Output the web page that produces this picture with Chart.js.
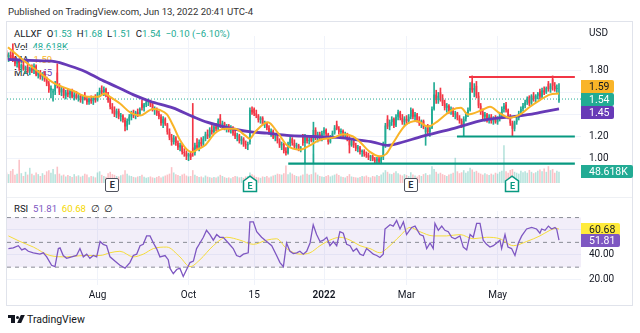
<!DOCTYPE html>
<html>
<head>
<meta charset="utf-8">
<script src="https://cdn.jsdelivr.net/npm/chart.js@4.4.1/dist/chart.umd.min.js"></script>
<style>
  html, body { margin:0; padding:0; background:#fff; }
  body { width:640px; height:333px; position:relative; overflow:hidden; font-family: Roboto, "Noto Sans", Arial, sans-serif; color:#131722; }
  .abs { position:absolute; white-space:nowrap; }
  #frame { left:6px; top:21px; width:625px; height:283px; border:1px solid #e0e3eb; }
  #sep { left:7px; top:197px; width:625px; height:1px; background:#eef0f4; }
  canvas { position:absolute; z-index:2; }
  .leg { font-size:9.6px; line-height:12px; color:#131722; z-index:1; }
  .g { color:#22ab94; }
  .tag { font-size:10.5px; line-height:13px; height:13px; padding:0 5px 0 8px; z-index:3; border-radius:0 2px 2px 0; }
  .ax { font-size:10px; color:#131722; z-index:3; }
  .em { position:absolute; z-index:3; width:14px; height:14px; font-size:9px; font-weight:bold; line-height:14px; text-align:center; }
</style>
</head>
<body>
<div class="abs" style="left:8px;top:6px;font-size:9.6px;color:#333;">Published on TradingView.com, Jun 13, 2022 20:41 UTC-4</div>
<div id="frame" class="abs"></div>
<div id="sep" class="abs"></div>

<div class="abs leg" style="left:14px;top:28px;">ALLXF&nbsp;&nbsp;O<span class="g">1.53</span>&nbsp;&nbsp;H<span class="g">1.68</span>&nbsp;&nbsp;L<span class="g">1.51</span>&nbsp;&nbsp;C<span class="g">1.54</span>&nbsp;&nbsp;<span class="g">−0.10 (−6.10%)</span></div>
<div class="abs leg" style="left:14px;top:40.5px;">Vol&nbsp;&nbsp;<span class="g">48.618K</span></div>
<div class="abs leg" style="left:14px;top:54px;">MA&nbsp;&nbsp;<span style="color:#f9b428">1.59</span></div>
<div class="abs leg" style="left:14px;top:67px;">MA&nbsp;&nbsp;<span style="color:#673ab7">1.45</span></div>
<div class="abs leg" style="left:14px;top:202.5px;">RSI&nbsp;&nbsp;<span style="color:#7e57c2">51.81</span>&nbsp;&nbsp;<span style="color:#f5d800">60.68</span>&nbsp;&nbsp;∅&nbsp;&nbsp;∅</div>

<div class="abs ax" style="left:589px;top:27px;">USD</div>

<canvas id="c1" width="625" height="175" style="left:7px;top:22px;width:625px;height:175px;"></canvas>
<canvas id="c2" width="625" height="108" style="left:7px;top:197px;width:625px;height:108px;"></canvas>

<div id="tagFast" class="abs tag" style="left:581px;background:#f9b428;color:#131722;">1.59</div>
<div id="tagLast" class="abs tag" style="left:581px;background:#22ab94;color:#fff;">1.54</div>
<div id="tagSlow" class="abs tag" style="left:581px;background:#673ab7;color:#fff;">1.45</div>
<div id="tagVol" class="abs tag" style="left:581px;background:#22ab94;color:#fff;">48.618K</div>
<div id="tagRsiMa" class="abs tag" style="left:581px;background:#ffeb3b;color:#131722;">60.68</div>
<div id="tagRsi" class="abs tag" style="left:581px;background:#7e57c2;color:#fff;">51.81</div>

<div id="marks"></div>

<div class="abs" style="left:8px;top:315px;width:7px;height:3px;background:#131722"></div>
<div class="abs" style="left:11px;top:315px;width:3.5px;height:8px;background:#131722"></div>
<div class="abs" style="left:15.5px;top:315.5px;width:3px;height:3px;border-radius:50%;background:#131722"></div>
<div class="abs" style="left:19px;top:315px;width:3.5px;height:8px;background:#131722;transform:skewX(-25deg)"></div>
<div class="abs" style="left:27px;top:312.5px;font-size:10.5px;color:#131722;">TradingView</div>

<script>
// ---------- DATA ----------
const opens = [1.95,1.92,1.94,1.96,1.89,1.86,1.88,1.82,1.85,1.81,
1.83,1.79,1.82,1.80,1.84,1.76,1.78,1.74,1.77,1.72,
1.68,1.62,1.60,1.61,1.78,1.66,1.60,1.63,1.57,1.60,
1.58,1.61,1.56,1.58,1.55,1.57,1.53,1.56,1.54,1.51,
1.54,1.52,1.55,1.53,1.59,1.62,1.60,1.63,1.58,1.53,
1.47,1.44,1.40,1.43,1.38,1.39,1.35,1.29,1.34,1.38,
1.41,1.39,1.42,1.40,1.50,1.46,1.49,1.51,1.52,1.49,
1.44,1.45,1.41,1.38,1.32,1.36,1.31,1.24,1.19,1.15,
1.19,1.14,1.10,1.12,1.06,1.05,1.02,1.04,1.10,1.05,
1.12,1.10,1.15,1.13,1.18,1.22,1.20,1.26,1.24,1.29,
1.27,1.37,1.30,1.32,1.28,1.30,1.26,1.28,1.23,1.20,
1.21,1.16,1.18,1.13,1.12,1.15,1.44,1.45,1.41,1.39,
1.35,1.37,1.31,1.32,1.28,1.24,1.25,1.19,1.21,1.16,
1.12,1.13,1.07,1.05,1.13,1.18,1.14,1.11,1.12,1.09,
1.21,1.14,1.19,1.16,1.20,1.16,1.26,1.19,1.22,1.18,
1.23,1.26,1.22,1.15,1.20,1.23,1.31,1.27,1.24,1.25,
1.21,1.22,1.18,1.12,1.16,1.12,1.09,1.10,1.06,1.07,
1.04,1.03,1.01,1.02,0.99,0.98,1.00,0.97,1.01,1.13,
1.36,1.29,1.33,1.36,1.30,1.38,1.42,1.37,1.33,1.36,
1.34,1.38,1.44,1.38,1.40,1.35,1.32,1.34,1.24,1.30,
1.24,1.28,1.45,1.58,1.53,1.60,1.55,1.50,1.46,1.48,
1.43,1.45,1.40,1.41,1.37,1.34,1.30,1.36,1.40,1.44,
1.70,1.62,1.66,1.57,1.48,1.42,1.38,1.40,1.35,1.38,
1.34,1.36,1.33,1.36,1.40,1.45,1.49,1.44,1.38,1.32,
1.27,1.33,1.37,1.41,1.45,1.48,1.51,1.56,1.50,1.57,
1.54,1.57,1.61,1.56,1.62,1.60,1.68,1.63,1.72,1.66,
1.63,1.53];
const highs = [1.98,1.96,1.97,2.04,1.92,1.90,1.89,1.86,1.88,1.84,
1.86,1.83,1.85,1.86,1.85,1.80,1.80,1.78,1.79,1.74,
1.70,1.66,1.63,1.70,1.86,1.68,1.65,1.64,1.62,1.63,
1.62,1.63,1.60,1.61,1.59,1.58,1.57,1.60,1.56,1.55,
1.57,1.56,1.58,1.60,1.64,1.66,1.65,1.64,1.60,1.55,
1.50,1.47,1.45,1.45,1.41,1.40,1.37,1.36,1.40,1.43,
1.44,1.43,1.45,1.46,1.53,1.50,1.53,1.54,1.53,1.50,
1.47,1.46,1.43,1.40,1.38,1.37,1.32,1.27,1.22,1.21,
1.20,1.16,1.14,1.13,1.09,1.07,1.05,1.06,1.50,1.14,
1.18,1.17,1.19,1.20,1.24,1.26,1.28,1.30,1.30,1.32,
1.36,1.40,1.34,1.33,1.31,1.31,1.30,1.29,1.26,1.23,
1.22,1.20,1.19,1.16,1.15,1.46,1.47,1.46,1.44,1.40,
1.38,1.38,1.34,1.33,1.30,1.27,1.26,1.22,1.22,1.18,
1.15,1.14,1.10,1.15,1.20,1.19,1.17,1.14,1.13,1.11,
1.22,1.22,1.21,1.20,1.21,1.33,1.28,1.24,1.24,1.25,
1.28,1.27,1.23,1.21,1.25,1.30,1.34,1.29,1.27,1.26,
1.24,1.23,1.20,1.18,1.17,1.14,1.12,1.11,1.08,1.08,
1.06,1.05,1.03,1.03,1.01,1.01,1.01,1.02,1.15,1.32,
1.39,1.35,1.38,1.37,1.40,1.44,1.43,1.40,1.38,1.39,
1.40,1.46,1.45,1.42,1.41,1.38,1.35,1.35,1.30,1.31,
1.30,1.47,1.69,1.62,1.60,1.64,1.58,1.53,1.50,1.49,
1.47,1.46,1.43,1.42,1.39,1.36,1.38,1.42,1.46,1.69,
1.75,1.68,1.70,1.60,1.50,1.45,1.42,1.41,1.40,1.40,
1.38,1.39,1.38,1.42,1.47,1.50,1.51,1.45,1.40,1.34,
1.34,1.39,1.43,1.47,1.50,1.53,1.56,1.57,1.58,1.60,
1.58,1.60,1.63,1.64,1.65,1.65,1.70,1.68,1.75,1.69,
1.67,1.68];
const lows = [1.90,1.88,1.89,1.88,1.84,1.83,1.80,1.79,1.80,1.77,
1.78,1.76,1.78,1.77,1.75,1.73,1.72,1.71,1.70,1.66,
1.60,1.55,1.52,1.58,1.64,1.58,1.57,1.55,1.54,1.56,
1.55,1.55,1.53,1.54,1.52,1.51,1.50,1.53,1.49,1.49,
1.50,1.49,1.51,1.52,1.56,1.58,1.57,1.56,1.51,1.45,
1.41,1.38,1.37,1.36,1.34,1.33,1.25,1.26,1.31,1.35,
1.37,1.36,1.38,1.39,1.44,1.43,1.47,1.48,1.47,1.43,
1.40,1.39,1.36,1.30,1.28,1.30,1.22,1.17,1.12,1.13,
1.12,1.08,1.07,1.04,1.02,0.99,0.98,0.99,1.02,1.03,
1.08,1.07,1.11,1.11,1.16,1.18,1.19,1.22,1.23,1.25,
1.26,1.28,1.27,1.26,1.24,1.24,1.23,1.21,1.18,1.16,
1.14,1.13,1.11,1.09,1.08,1.13,1.40,1.39,1.37,1.33,
1.32,1.30,1.28,1.26,1.22,1.20,1.18,1.16,1.14,1.10,
1.08,1.05,1.03,1.04,1.11,1.12,1.09,1.08,1.07,1.06,
1.12,0.96,1.14,1.13,1.15,0.96,1.17,1.15,1.16,1.16,
1.21,1.20,1.13,1.14,1.18,1.22,1.26,1.22,1.20,1.19,
1.18,1.16,1.05,1.11,1.10,1.07,1.06,1.04,1.02,1.02,
1.01,0.99,0.98,0.98,0.96,0.96,0.96,0.96,0.99,1.10,
1.27,1.26,1.30,1.28,1.29,1.35,1.35,1.31,1.30,1.31,
1.32,1.36,1.36,1.34,1.33,1.30,1.28,1.27,1.12,1.22,
1.20,1.27,1.44,1.50,1.50,1.52,1.48,1.44,1.42,1.41,
1.40,1.38,1.36,1.35,1.32,1.28,1.20,1.34,1.38,1.43,
1.60,1.56,1.55,1.46,1.40,1.36,1.34,1.33,1.32,1.32,
1.31,1.32,1.31,1.34,1.38,1.42,1.42,1.36,1.30,1.20,
1.25,1.31,1.35,1.39,1.43,1.46,1.49,1.48,1.49,1.52,
1.51,1.54,1.54,1.55,1.58,1.59,1.61,1.60,1.62,1.61,
1.60,1.51];
const closes = [1.92,1.94,1.90,1.89,1.86,1.88,1.82,1.85,1.81,1.83,
1.79,1.82,1.80,1.84,1.76,1.78,1.74,1.77,1.72,1.68,
1.62,1.64,1.61,1.68,1.66,1.60,1.63,1.57,1.60,1.58,
1.61,1.56,1.58,1.55,1.57,1.53,1.56,1.54,1.51,1.54,
1.52,1.55,1.53,1.59,1.62,1.60,1.63,1.58,1.53,1.47,
1.44,1.40,1.43,1.38,1.39,1.35,1.29,1.34,1.38,1.41,
1.39,1.42,1.40,1.45,1.46,1.49,1.51,1.52,1.49,1.44,
1.45,1.41,1.38,1.32,1.36,1.31,1.24,1.19,1.15,1.19,
1.14,1.10,1.12,1.06,1.05,1.02,1.04,1.01,1.05,1.12,
1.10,1.15,1.13,1.18,1.22,1.20,1.26,1.24,1.29,1.27,
1.34,1.30,1.32,1.28,1.30,1.26,1.28,1.23,1.20,1.21,
1.16,1.18,1.13,1.12,1.13,1.44,1.42,1.41,1.39,1.35,
1.37,1.31,1.32,1.28,1.24,1.25,1.19,1.21,1.16,1.12,
1.13,1.07,1.05,1.13,1.18,1.14,1.11,1.12,1.09,1.10,
1.14,1.19,1.16,1.17,1.16,1.26,1.19,1.22,1.18,1.23,
1.26,1.22,1.15,1.20,1.23,1.28,1.27,1.24,1.25,1.21,
1.22,1.18,1.12,1.16,1.12,1.09,1.10,1.06,1.07,1.04,
1.03,1.01,1.02,0.99,0.98,1.00,0.97,1.01,1.13,1.30,
1.29,1.33,1.36,1.30,1.38,1.42,1.37,1.33,1.36,1.34,
1.38,1.44,1.38,1.40,1.35,1.32,1.34,1.29,1.28,1.24,
1.28,1.45,1.58,1.53,1.57,1.55,1.50,1.46,1.48,1.43,
1.45,1.40,1.41,1.37,1.34,1.30,1.36,1.40,1.44,1.64,
1.62,1.64,1.57,1.48,1.42,1.38,1.40,1.35,1.38,1.34,
1.36,1.33,1.36,1.40,1.45,1.48,1.44,1.38,1.32,1.27,
1.33,1.37,1.41,1.45,1.48,1.51,1.54,1.50,1.57,1.54,
1.57,1.59,1.56,1.62,1.60,1.64,1.63,1.66,1.66,1.63,
1.64,1.54];
const volumes = [45,38,52,60,35,40,100,42,30,48,
36,65,40,33,45,38,30,42,35,50,
55,44,60,38,70,40,32,36,28,34,
30,26,38,29,33,27,31,40,36,25,
30,28,24,45,50,35,30,27,42,48,
38,35,30,28,33,36,55,40,32,30,
26,24,28,30,35,27,22,25,28,24,
22,26,30,24,28,32,36,40,68,45,
38,34,30,36,40,32,28,30,55,35,
30,26,28,24,32,27,25,22,26,24,
28,35,30,25,22,24,20,26,30,28,
24,26,22,28,30,45,38,32,26,24,
22,28,26,30,24,28,32,35,40,38,
36,42,75,38,45,40,34,30,28,32,
36,90,40,35,38,125,45,36,30,28,
26,30,34,28,32,36,40,34,28,26,
24,30,38,28,26,24,22,26,30,28,
32,26,24,30,28,34,30,36,45,55,
48,40,38,44,50,42,36,32,38,34,
30,46,36,32,28,34,30,38,42,34,
36,72,60,48,40,44,38,34,30,36,
40,44,108,50,42,46,55,44,50,65,
58,48,52,44,40,36,42,38,34,40,
36,44,40,48,52,162,50,44,56,60,
48,44,40,52,46,50,44,56,48,42,
46,52,58,50,62,48,72,55,60,44,
52,48.618];

// moving averages (bar index, value)
const maFastIdx = [0.7,8.7,14.9,22.9,30.9,38.5,43.2,46.5,48.9,53.6,58.3,63.1,69.2,72.5,75.8,78.7,81.9,85.3,87.6,90.0,93.8,98.5,103.2,107.9,112.7,115.0,117.4,123.5,128.3,132.5,135.3,138.6,143.4,148.1,154.4,159.0,163.7,167.0,171.7,176.4,179.3,182.6,188.3,193.9,199.1,203.8,210.4,214.7,218.0,224.6,228.4,233.1,237.8,242.6,247.3,252.0,256.7,261];
const maFastVal = [2.01,1.88,1.79,1.68,1.62,1.56,1.56,1.59,1.56,1.50,1.42,1.39,1.45,1.44,1.40,1.30,1.17,1.08,1.06,1.08,1.12,1.23,1.27,1.27,1.21,1.18,1.24,1.33,1.23,1.12,1.09,1.08,1.12,1.17,1.19,1.22,1.20,1.15,1.06,1.02,1.04,1.14,1.30,1.34,1.29,1.34,1.44,1.46,1.40,1.44,1.47,1.41,1.37,1.40,1.47,1.53,1.58,1.59];
const maSlowIdx = [0.7,11.1,22.9,30.0,37.1,44.2,52.2,59.8,67.8,78.6,88.1,94.7,107.0,116.4,123.1,132.5,144.8,157.5,165.6,173.1,179.9,187.3,194.4,210.4,226.0,239.3,247.3,255.3,261];
const maSlowVal = [1.90,1.89,1.88,1.84,1.79,1.72,1.65,1.58,1.52,1.46,1.38,1.33,1.27,1.24,1.23,1.21,1.20,1.19,1.17,1.15,1.12,1.15,1.19,1.27,1.35,1.38,1.40,1.43,1.45];

// RSI (bar index, value)
const rsiIdx = [0.9,3.2,5.6,7.2,8.7,10.3,12.7,15.8,17.4,19.0,21.3,22.9,24.5,25.3,26.8,28.4,30.8,33.1,34.7,36.3,37.9,39.4,41.0,42.6,44.2,45.7,47.3,48.9,51.2,53.6,56.0,58.3,59.9,61.5,63.1,64.6,66.2,67.8,69.4,70.9,72.5,74.9,76.4,77.2,78.8,80.4,81.9,83.5,85.1,86.7,88.3,89.8,91.4,93.0,94.5,96.1,97.7,99.3,100.8,102.4,104.8,107.1,108.7,110.3,111.9,114.2,115.0,116.6,118.2,120.5,122.9,125.3,127.6,129.2,130.8,132.3,133.9,135.5,137.1,138.6,140.2,141.8,143.4,144.9,146.5,148.1,
149.7,151.3,152.8,154.4,156.0,157.5,159.1,160.7,162.3,163.8,165.4,167.0,168.6,170.1,171.7,173.3,174.9,176.4,178.0,178.8,181.2,182.7,184.3,185.9,187.5,189.0,191.4,193.0,195.3,196.9,198.5,200.1,201.6,202.4,204.0,205.6,207.1,208.7,210.3,211.9,214.2,215.8,217.4,219.0,220.5,222.1,223.7,225.2,226.8,228.4,230.0,231.6,233.1,233.9,235.5,236.9,238.6,240.2,241.8,243.4,245.7,248.1,250.4,252.0,252.8,254.4,256.0,257.5,259.1,259.9,261];
const rsiVal = [45.0,45.5,47.3,43.9,45.0,42.8,41.6,40.5,41.6,38.3,31.5,30.4,45.0,45.5,39.4,37.1,38.3,39.4,45.0,38.3,40.5,37.1,39.4,38.3,50.7,48.4,47.3,38.3,34.9,31.5,29.2,33.7,39.4,40.5,47.3,48.4,55.2,55.2,49.5,45.0,38.3,39.4,36.0,29.2,24.7,28.1,29.2,22.5,28.1,33.7,34.9,45.0,49.5,54.1,59.7,56.3,51.8,56.3,54.1,54.1,49.5,45.0,39.4,38.3,40.5,41.6,66.5,66.5,58.6,54.1,50.7,47.3,39.4,33.7,30.4,49.5,42.8,41.0,41.6,42.8,40.5,42.8,49.5,64.2,56.3,50.7,
51.8,54.1,47.3,50.7,47.3,58.6,57.4,48.4,47.3,42.8,45.0,40.5,39.4,45.0,42.8,40.5,39.4,37.8,40.5,60.8,64.2,63.1,67.6,60.8,66.5,56.3,62.0,63.1,56.3,55.2,45.0,49.5,45.0,65.3,59.7,63.1,59.7,58.6,54.1,52.9,55.2,46.2,43.9,56.3,54.1,65.3,65.3,51.8,48.4,46.2,47.3,49.5,51.8,45.0,56.3,46.2,45.0,39.4,49.5,55.2,60.8,62.0,60.8,57.4,60.8,59.7,63.1,60.8,62.0,60.8,51.81];
const rsiMaIdx = [0.9,6.4,12.7,20.5,28.4,36.3,44.2,48.9,53.6,59.9,64.6,69.4,75.7,81.9,86.7,91.4,97.7,104.0,110.3,116.6,122.9,127.6,132.3,138.6,143.4,148.1,152.8,157.5,162.3,167.0,171.7,176.4,179.6,185.9,190.6,195.3,201.6,207.9,214.2,220.5,226.8,233.1,239.4,245.7,252.0,256.7,259.9,261];
const rsiMaVal = [55.2,50.7,46.2,39.4,38.3,39.4,39.4,41.6,42.8,38.3,40.5,45.0,46.2,38.3,30.4,36.0,47.3,54.1,51.8,48.4,51.8,52.9,45.0,40.5,41.6,47.3,51.8,54.1,51.8,47.3,45.0,41.6,45.0,55.2,62.0,58.6,55.2,55.2,56.3,52.9,54.1,52.9,47.3,50.7,55.2,59.7,61.3,60.68];
const rsiLevels = [70, 50, 30];

// drawn horizontal levels
const levelPrice = [1.74, 1.20, 0.953];
const levelFrom  = [218.5, 212.8, 133.1];
const levelTo    = [268.5, 268.5, 268.5];
const levelKind  = ['res', 'sup', 'sup'];

// time axis
const tickIdx    = [43, 86, 117, 150, 189, 232];
const tickLabels = ['Aug', 'Oct', '15', '2022', 'Mar', 'May'];
const priceGrid   = [1.0, 1.2, 1.4, 1.6, 1.8, 2.0];
const priceLabels = [1.0, 1.2, 1.8];
const rsiGrid   = [20, 40, 60];
const rsiLabels = [20, 40];

// earnings markers (bar index)
const earnIdx  = [50, 115, 191, 239];
const earnKind = ['gray', 'green', 'gray', 'green'];

// ---------- STYLE ----------
const UP = '#22ab94', DN = '#f23645';
const UPV = 'rgba(34,171,148,0.33)', DNV = 'rgba(242,54,69,0.30)';
const FAST = '#f9b428', SLOW = '#673ab7';
const X_MIN = 0.24, X_MAX = 271.4;
const P_MIN = 0.778, P_MAX = 2.112;
const VOL_MAX = 630;
const R_MIN = 15.6, R_MAX = 75.3;
const GRID = '#f0f3fa';

Chart.defaults.font.family = 'Roboto, "Noto Sans", sans-serif';
Chart.defaults.font.size = 10;
Chart.defaults.color = '#131722';

const N = closes.length;
const isUp = i => closes[i] >= opens[i];
const pairs = (xs, ys) => xs.map((x, k) => ({x: x, y: ys[k]}));

const xScale = (showLabels) => ({
  type: 'linear', min: X_MIN, max: X_MAX, offset: false,
  grid: {color: GRID, drawTicks: false, offset: false},
  border: {display: false},
  afterBuildTicks: s => { s.ticks = tickIdx.map(v => ({value: v})); },
  ticks: showLabels ? {
    autoSkip: false, maxRotation: 0, minRotation: 0, padding: 4, color: '#131722',
    font: c => ({size: 10, weight: (c.tick && c.tick.value === 150) ? '600' : 'normal'}),
    callback: v => { const k = tickIdx.indexOf(v); return k >= 0 ? tickLabels[k] : ''; }
  } : {display: false},
  afterFit: s => { s.height = showLabels ? 20 : 0; }
});

const datasets1 = [];
datasets1.push({
  type: 'bar', yAxisID: 'yv', order: 20, grouped: false,
  data: volumes.map((v, i) => ({x: i, y: v})),
  backgroundColor: volumes.map((v, i) => isUp(i) ? UPV : DNV),
  categoryPercentage: 1, barPercentage: 0.75
});
datasets1.push({
  type: 'bar', yAxisID: 'y', order: 11, grouped: false,
  data: closes.map((c, i) => ({x: i, y: [lows[i], highs[i]]})),
  backgroundColor: closes.map((c, i) => isUp(i) ? UP : DN),
  barThickness: 1
});
datasets1.push({
  type: 'bar', yAxisID: 'y', order: 10, grouped: false,
  data: closes.map((c, i) => ({x: i, y: [opens[i], c]})),
  backgroundColor: closes.map((c, i) => isUp(i) ? UP : DN),
  categoryPercentage: 1, barPercentage: 0.78
});
datasets1.push({
  type: 'line', yAxisID: 'y', order: 8,
  data: [{x: X_MIN, y: closes[N-1]}, {x: X_MAX, y: closes[N-1]}],
  borderColor: UP, borderWidth: 1, borderDash: [1, 2], pointRadius: 0
});
datasets1.push({
  type: 'line', yAxisID: 'y', order: 3, data: pairs(maSlowIdx, maSlowVal),
  borderColor: SLOW, borderWidth: 2.8, pointRadius: 0, cubicInterpolationMode: 'monotone'
});
datasets1.push({
  type: 'line', yAxisID: 'y', order: 2, data: pairs(maFastIdx, maFastVal),
  borderColor: FAST, borderWidth: 2, pointRadius: 0, cubicInterpolationMode: 'monotone'
});
levelPrice.forEach((p, k) => {
  datasets1.push({
    type: 'line', yAxisID: 'y', order: 1,
    data: [{x: levelFrom[k], y: p}, {x: levelTo[k], y: p}],
    borderColor: levelKind[k] === 'res' ? '#f23645' : '#089981', borderWidth: 2.2, pointRadius: 0
  });
});

const chart1 = new Chart(document.getElementById('c1'), {
  type: 'bar',
  data: {datasets: datasets1},
  options: {
    responsive: false, animation: false, events: [],
    layout: {padding: 0},
    plugins: {legend: {display: false}, tooltip: {enabled: false}},
    scales: {
      x: xScale(false),
      y: {
        position: 'right', min: P_MIN, max: P_MAX,
        grid: {color: GRID, drawTicks: false}, border: {display: false},
        afterBuildTicks: s => { s.ticks = priceGrid.map(v => ({value: v})); },
        ticks: {padding: 8, color: '#131722', callback: v => priceLabels.includes(v) ? v.toFixed(2) : ''},
        afterFit: s => { s.width = 51; }
      },
      yv: {display: false, min: 0, max: VOL_MAX}
    }
  }
});

const datasets2 = [];
rsiLevels.forEach((lv, k) => {
  datasets2.push({
    type: 'line', order: 10,
    data: [{x: X_MIN, y: lv}, {x: X_MAX, y: lv}],
    borderColor: '#8a8d96', borderWidth: 1, borderDash: [4, 4], pointRadius: 0,
    fill: k === 2 ? {target: 0} : false,
    backgroundColor: 'rgba(126,87,194,0.10)'
  });
});
datasets2.push({
  type: 'line', order: 2, data: pairs(rsiMaIdx, rsiMaVal),
  borderColor: '#f5dc3a', borderWidth: 1, pointRadius: 0, cubicInterpolationMode: 'monotone'
});
datasets2.push({
  type: 'line', order: 1, data: pairs(rsiIdx, rsiVal),
  borderColor: '#7e57c2', borderWidth: 1.3, pointRadius: 0, tension: 0
});

const chart2 = new Chart(document.getElementById('c2'), {
  type: 'line',
  data: {datasets: datasets2},
  options: {
    responsive: false, animation: false, events: [],
    layout: {padding: 0},
    plugins: {legend: {display: false}, tooltip: {enabled: false}},
    scales: {
      x: xScale(true),
      y: {
        position: 'right', min: R_MIN, max: R_MAX,
        grid: {color: GRID, drawTicks: false}, border: {display: false},
        afterBuildTicks: s => { s.ticks = rsiGrid.map(v => ({value: v})); },
        ticks: {padding: 8, color: '#131722', callback: v => rsiLabels.includes(v) ? v.toFixed(2) : ''},
        afterFit: s => { s.width = 51; }
      }
    }
  }
});

// ---------- overlays positioned by the scales ----------
const top1 = 22, top2 = 197, left0 = 7, TAG_H = 13;
const py = v => top1 + chart1.scales.y.getPixelForValue(v);
const ry = v => top2 + chart2.scales.y.getPixelForValue(v);
const setTop = (id, y) => { document.getElementById(id).style.top = (y - TAG_H / 2) + 'px'; };

const yLast = py(closes[N-1]);
let yFast = py(maFastVal[maFastVal.length-1]);
let ySlow = py(maSlowVal[maSlowVal.length-1]);
if (yFast > yLast - TAG_H) yFast = yLast - TAG_H;
if (ySlow < yLast + TAG_H) ySlow = yLast + TAG_H + 0.5;
setTop('tagLast', yLast);
setTop('tagFast', yFast);
setTop('tagSlow', ySlow);
setTop('tagVol', top1 + chart1.scales.yv.getPixelForValue(volumes[N-1]));
setTop('tagRsiMa', ry(rsiMaVal[rsiMaVal.length-1]));
setTop('tagRsi', ry(rsiVal[rsiVal.length-1]));

const marks = document.getElementById('marks');
earnIdx.forEach((ix, k) => {
  const cx = left0 + chart1.scales.x.getPixelForValue(ix);
  const green = earnKind[k] === 'green';
  const wrap = document.createElement('div');
  wrap.className = 'em';
  wrap.style.left = (cx - 7) + 'px';
  wrap.style.top = '178px';
  if (green) {
    wrap.innerHTML = '<svg width="16" height="18" style="position:absolute;left:-1px;top:-3px" viewBox="0 0 16 18"><polygon points="1.5,6 8,1.2 14.5,6 14.5,16.5 1.5,16.5" fill="#fff" stroke="#089981" stroke-width="1.5"/></svg><span style="position:relative;color:#089981;top:1px">E</span>';
  } else {
    wrap.style.border = '1.5px solid #50535e';
    wrap.style.borderRadius = '2px';
    wrap.style.background = '#fff';
    wrap.style.width = '12px'; wrap.style.height = '12px'; wrap.style.lineHeight = '12px';
    wrap.innerHTML = '<span style="color:#2a2e39">E</span>';
  }
  marks.appendChild(wrap);
});
</script>
</body>
</html>
